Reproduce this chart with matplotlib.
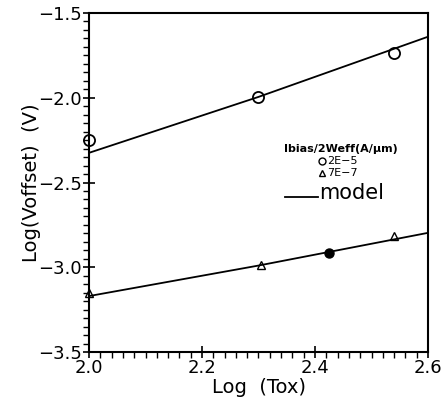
import numpy as np
import matplotlib
matplotlib.use("Agg")
import matplotlib.pyplot as plt
from matplotlib.ticker import MultipleLocator

# measured points, Ibias/2Weff = 2E-5 (circles)
tox_circ = [2.0, 2.30, 2.54]
voff_circ = [-2.25, -1.995, -1.735]

# measured points, Ibias/2Weff = 7E-7 (triangles)
tox_tri = [2.0, 2.305, 2.54]
voff_tri = [-3.15, -2.985, -2.815]

# extra filled point on the lower line
tox_fill = [2.425]
voff_fill = [-2.913]

# model curves
tox_model = [2.0, 2.3, 2.6]
voff_model_hi = [-2.325, -1.995, -1.64]
voff_model_lo = [-3.17, -2.99, -2.797]

fig = plt.figure(figsize=(4.41, 4.01), dpi=100)
ax = fig.add_axes([89 / 441, 49 / 401, 339 / 441, 339 / 401])

ax.plot(tox_model, voff_model_hi, color="black", lw=1.3)
ax.plot(tox_model, voff_model_lo, color="black", lw=1.3)
ax.plot(tox_circ, voff_circ, "o", mfc="none", mec="black", ms=8, mew=1.3,
        clip_on=False)
ax.plot(tox_tri, voff_tri, "^", mfc="none", mec="black", ms=6, mew=1.0,
        clip_on=False)
ax.plot(tox_fill, voff_fill, "o", color="black", ms=6.5)

ax.set_xlim(2.0, 2.6)
ax.set_ylim(-3.5, -1.5)
ax.xaxis.set_major_locator(MultipleLocator(0.2))
ax.xaxis.set_minor_locator(MultipleLocator(0.02))
ax.yaxis.set_major_locator(MultipleLocator(0.5))
ax.yaxis.set_minor_locator(MultipleLocator(0.05))
ax.tick_params(which="major", direction="inout", length=8, width=1.2,
               labelsize=13, pad=1)
ax.tick_params(which="minor", direction="out", length=4, width=1.0)
ax.tick_params(top=False, right=False)
for sp in ax.spines.values():
    sp.set_linewidth(1.5)

ax.xaxis.set_major_formatter(plt.FuncFormatter(lambda v, p: f"{v:.1f}"))
ax.yaxis.set_major_formatter(
    plt.FuncFormatter(lambda v, p: f"{v:.1f}".replace("-", "\u2212")))

ax.set_xlabel("Log  (Tox)", fontsize=14, labelpad=1)
ax.set_ylabel("Log(Voffset)  (V)", fontsize=14, labelpad=-2)

# hand-drawn style legend
ax.text(2.446, -2.303, "Ibias/2Weff(A/\u03bcm)", fontsize=8,
        fontweight="bold", ha="center", va="center")
ax.plot([2.413], [-2.376], "o", mfc="none", mec="black", ms=5, mew=1.0)
ax.text(2.421, -2.376, "2E\u22125", fontsize=8, ha="left", va="center")
ax.plot([2.413], [-2.442], "^", mfc="none", mec="black", ms=5, mew=1.0)
ax.text(2.421, -2.442, "7E\u22127", fontsize=8, ha="left", va="center")
ax.plot([2.347, 2.405], [-2.585, -2.585], color="black", lw=1.3)
ax.text(2.407, -2.56, "model", fontsize=15, ha="left", va="center")

fig.savefig("out.png", dpi=100)
